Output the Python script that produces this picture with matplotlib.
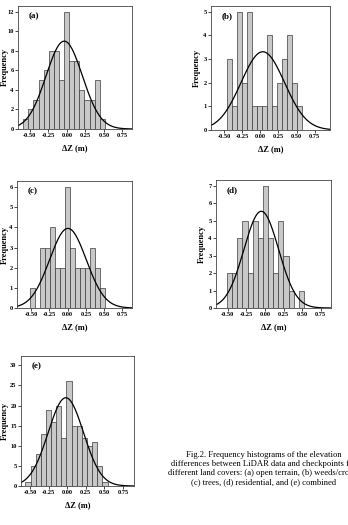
import numpy as np
import matplotlib
matplotlib.use("Agg")
import matplotlib.pyplot as plt

# histogram counts (bins of ~0.069 m)
bin_width = 0.069

counts_a = [1, 2, 3, 5, 6, 8, 8, 5, 12, 7, 7, 4, 3, 3, 5, 1]
start_a = -0.59
counts_b = [3, 1, 5, 2, 5, 1, 1, 1, 4, 1, 2, 3, 4, 2, 1]
start_b = -0.455
counts_c = [1, 0, 3, 3, 4, 2, 2, 6, 3, 2, 2, 2, 3, 2, 1]
start_c = -0.518
counts_d = [2, 2, 4, 5, 2, 5, 4, 7, 4, 2, 5, 3, 1, 0, 1]
start_d = -0.51
counts_e = [1, 5, 8, 13, 19, 16, 20, 12, 26, 15, 15, 12, 10, 11, 5, 1]
start_e = -0.56

xticks = [-0.50, -0.25, 0.00, 0.25, 0.50, 0.75]
xtick_labels = ["-0.50", "-0.25", "0.00", "0.25", "0.50", "0.75"]

caption = ("Fig.2. Frequency histograms of the elevation\n"
           "differences between LiDAR data and checkpoints for\n"
           "different land covers: (a) open terrain, (b) weeds/crops,\n"
           "(c) trees, (d) residential, and (e) combined")

plt.rcParams['font.family'] = ['Liberation Serif', 'DejaVu Serif']

W, H = 348, 525
fig = plt.figure(figsize=(W / 100, H / 100), dpi=100)

panels = [
    # label, counts, start, rect(px: left, top, right, bottom), ylabel x(px), xlim, ytop, yticks
    ("(a)", counts_a, start_a, (18, 6, 132, 129), 4.5, (-0.66, 0.88), 12.6, range(0, 13, 2)),
    ("(b)", counts_b, start_b, (211, 6, 330, 130), 197, (-0.68, 0.96), 5.24, range(0, 6)),
    ("(c)", counts_c, start_c, (17, 181, 132, 308), 4.5, (-0.69, 0.88), 6.31, range(0, 7)),
    ("(d)", counts_d, start_d, (216, 180, 331, 308), 202, (-0.66, 0.89), 7.33, range(0, 8)),
    ("(e)", counts_e, start_e, (21, 356, 134, 486), 4.5, (-0.62, 0.9), 32.3, range(0, 31, 5)),
]

for label, counts, start, (l, t, r, b), ylx, xlim, ytop, yt in panels:
    ax = fig.add_axes([l / W, 1 - b / H, (r - l) / W, (b - t) / H])
    counts = np.array(counts, dtype=float)
    lefts = start + bin_width * np.arange(len(counts))
    ax.bar(lefts, counts, width=bin_width, align='edge',
           color='#c8c8c8', edgecolor='#3a3a3a', linewidth=0.5)

    # normal curve from the binned data
    centers = lefts + bin_width / 2
    n = counts.sum()
    mu = (centers * counts).sum() / n
    sd = np.sqrt(((centers - mu) ** 2 * counts).sum() / n)
    xs = np.linspace(xlim[0], xlim[1], 300)
    ys = n * bin_width / (sd * np.sqrt(2 * np.pi)) * np.exp(-0.5 * ((xs - mu) / sd) ** 2)
    ax.plot(xs, ys, color='black', linewidth=0.9)

    ax.set_xlim(xlim)
    ax.set_ylim(0, ytop)
    ax.set_xticks(xticks)
    ax.set_xticklabels(xtick_labels)
    ax.set_yticks(list(yt))
    ax.tick_params(axis='both', labelsize=4.6, length=2, width=0.5, pad=1.2)
    for lab in ax.get_xticklabels() + ax.get_yticklabels():
        lab.set_fontweight('bold')
    for s in ax.spines.values():
        s.set_linewidth(0.6)
        s.set_color('#444444')
    ax.set_xlabel("ΔZ (m)", fontsize=6, fontweight='bold', labelpad=4)
    ax.set_ylabel("Frequency", fontsize=6, fontweight='bold', va='center')
    ax.yaxis.set_label_coords((ylx - l) / (r - l), 0.5)
    ax.text(0.09, 0.92, label, transform=ax.transAxes, fontsize=6.5,
            fontweight='bold', ha='left', va='center')

fig.text(264 / W, 1 - 451 / H, caption, ha='center', va='top',
         fontsize=6.2, linespacing=1.15, multialignment='center')

fig.savefig("out.png", dpi=100)
